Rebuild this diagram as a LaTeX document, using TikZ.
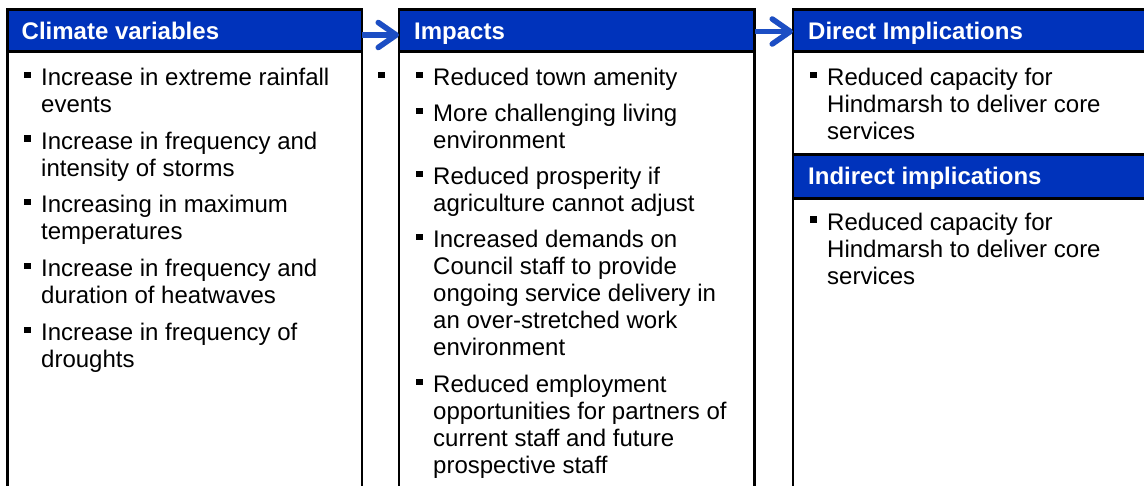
\documentclass[tikz,border=0pt]{standalone}
\usepackage{fontspec}
\setmainfont{Liberation Sans}
\usetikzlibrary{arrows.meta}
\definecolor{hdrblue}{RGB}{0,51,187}
\definecolor{arrblue}{RGB}{28,78,196}
% square bullet followed by a block of manually broken lines
\newcommand\sqbullet{\raisebox{7.5pt}{\rule{6.6pt}{6.6pt}}}
\newcommand\colitem[1]{\makebox[17pt][l]{\sqbullet}\parbox[t]{400pt}{#1}}
\begin{document}
\begin{tikzpicture}[x=1pt,y=-1pt,
  colbox/.style={draw=black, line width=2.6pt, fill=white, rectangle,
    anchor=north west, outer sep=0pt, inner sep=0pt, minimum height=620pt},
  hdr/.style={draw=black, line width=2.6pt, fill=hdrblue, rectangle,
    anchor=north west, outer sep=0pt, inner sep=0pt},
  hdrtext/.style={anchor=base west, inner sep=0pt, text=white,
    font=\fontsize{24}{27}\selectfont\bfseries},
  item/.style={anchor=base west, inner sep=0pt, align=left,
    font=\fontsize{24}{27}\selectfont},
  flow/.style={line width=5.5pt, draw=arrblue,
    -{Straight Barb[length=18pt,width=25pt,round]}},
  flowshadow/.style={line width=5.5pt, draw=black, opacity=0.15,
    -{Straight Barb[length=18pt,width=25pt,round]}}
]
\useasboundingbox (0,0) rectangle (1144,486);
\clip (0,0) rectangle (1144,486);

% three columns, open at the bottom
\node[colbox, minimum width=354.5pt] (c1) at (7.5,9.5) {};
\node[colbox, minimum width=355.7pt] (c2) at (399,9.5) {};
\node[colbox, minimum width=420pt]   (c3) at (793,9.5) {};

% header bars
\node[hdr, minimum width=354.5pt, minimum height=42.2pt] (h1) at (7.5,9.5) {};
\node[hdr, minimum width=355.7pt, minimum height=42.2pt] (h2) at (399,9.5) {};
\node[hdr, minimum width=420pt,   minimum height=42.2pt] (h3) at (793,9.5) {};
\node[hdr, minimum width=420pt,   minimum height=44pt]   (h4) at (793,154.3) {};

\node[hdrtext] (t1) at (21.5,40) {Climate variables};
\node[hdrtext] (t2) at (414,40) {Impacts};
\node[hdrtext] (t3) at (808,40) {Direct Implications};
\node[hdrtext] (t4) at (808,185) {Indirect implications};

% flow arrows between the columns
\draw[flowshadow, xshift=1.5pt, yshift=-2.5pt] ([yshift=-4.4pt]h1.east) -- ([yshift=-4.4pt]h2.west);
\draw[flowshadow, xshift=1.5pt, yshift=-2.5pt] ([yshift=-0.9pt]h2.east) -- ([yshift=-0.9pt]h3.west);
\draw[flow] ([yshift=-4.4pt]h1.east) -- ([yshift=-4.4pt]h2.west);
\draw[flow] ([yshift=-0.9pt]h2.east) -- ([yshift=-0.9pt]h3.west);

% climate variables
\node[item] (a1) at (24,86)    {\colitem{Increase in extreme rainfall\\events}};
\node[item] (a2) at (24,149.5) {\colitem{Increase in frequency and\\intensity of storms}};
\node[item] (a3) at (24,213)   {\colitem{Increasing in maximum\\temperatures}};
\node[item] (a4) at (24,277)   {\colitem{Increase in frequency and\\duration of heatwaves}};
\node[item] (a5) at (24,341)   {\colitem{Increase in frequency of\\droughts}};

% lone bullet between the first two columns
\node[item] (sb) at (378,86) {\sqbullet};

% impacts
\node[item] (b1) at (416,86)  {\colitem{Reduced town amenity}};
\node[item] (b2) at (416,122) {\colitem{More challenging living\\environment}};
\node[item] (b3) at (416,185) {\colitem{Reduced prosperity if\\agriculture cannot adjust}};
\node[item] (b4) at (416,248) {\colitem{Increased demands on\\Council staff to provide\\ongoing service delivery in\\an over-stretched work\\environment}};
\node[item] (b5) at (416,393) {\colitem{Reduced employment\\opportunities for partners of\\current staff and future\\prospective staff}};

% implications
\node[item] (d1) at (810,86)    {\colitem{Reduced capacity for\\Hindmarsh to deliver core\\services}};
\node[item] (e1) at (810,230.5) {\colitem{Reduced capacity for\\Hindmarsh to deliver core\\services}};
\end{tikzpicture}
\end{document}
